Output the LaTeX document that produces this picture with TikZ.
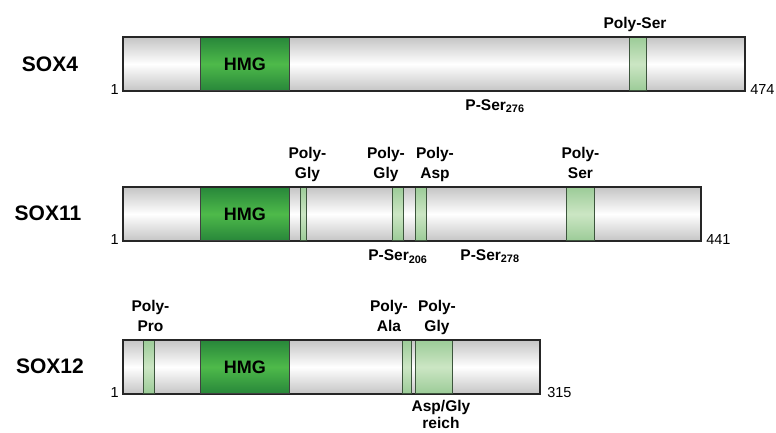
\documentclass[tikz,border=0pt]{standalone}
\usepackage{fontspec}
\setmainfont{Liberation Sans}
\usepackage{tikz}
\usetikzlibrary{positioning}

\definecolor{hmgdark}{RGB}{40,135,58}
\definecolor{hmglight}{RGB}{78,186,74}
\definecolor{polydark}{RGB}{156,204,152}
\definecolor{polylight}{RGB}{204,230,196}
\definecolor{polyline}{RGB}{60,85,60}

\begin{document}
\begin{tikzpicture}[
  x=1pt, y=-1pt,
  bar/.style={draw=black!85, line width=1.1pt, top color=gray!45,
              bottom color=gray!45, middle color=white,
              minimum height=53pt, inner sep=0pt, anchor=north west},
  hmg/.style={bar, draw=black!75, line width=0.9pt, top color=hmgdark,
              bottom color=hmgdark, middle color=hmglight,
              font=\fontsize{18}{20}\selectfont\bfseries},
  poly/.style={bar, draw=polyline, line width=0.9pt, top color=polydark,
               bottom color=polydark, middle color=polylight},
  outline/.style={draw=black!85, line width=1.1pt},
  lbl/.style={font=\fontsize{15.5}{20}\selectfont\bfseries, align=center,
              inner sep=1pt, text depth=3.5pt},
  gene/.style={font=\fontsize{21}{24}\selectfont\bfseries},
  num/.style={font=\fontsize{14.5}{16}\selectfont, inner sep=0pt}
]
\useasboundingbox (0,0) rectangle (776,432);

% SOX4
\node[bar, minimum width=621pt] (s4) at (123,37) {};
\node[hmg, minimum width=89pt] (hmg4) at (200,37) {HMG};
\node[poly, minimum width=17pt] (ps4) at (629,37) {};
\draw[outline] (s4.north west) rectangle (s4.south east);
\node[gene] (n4) at (50,64) {SOX4};
\node[num, anchor=base east] (s4b) at ([xshift=-4pt,yshift=-3.5pt]s4.south west) {1};
\node[num, anchor=base west] (s4e) at ([xshift=5pt,yshift=-3.5pt]s4.south east) {474};
\node[lbl, above=4pt of ps4, xshift=-3pt] (lps4) {Poly-Ser};
\node[lbl, anchor=north] (pser276) at (495,98) {P-Ser\textsubscript{276}};

% SOX11
\node[bar, minimum width=577pt] (s11) at (123,187) {};
\node[hmg, minimum width=89pt] (hmg11) at (200,187) {HMG};
\node[poly, minimum width=6pt] (pg1) at (300,187) {};
\node[poly, minimum width=11pt] (pg2) at (392,187) {};
\node[poly, minimum width=11pt] (pa) at (415,187) {};
\node[poly, minimum width=28pt] (ps11) at (566,187) {};
\draw[outline] (s11.north west) rectangle (s11.south east);
\node[gene] (n11) at (48,213) {SOX11};
\node[num, anchor=base east] (s11b) at ([xshift=-4pt,yshift=-3.5pt]s11.south west) {1};
\node[num, anchor=base west] (s11e) at ([xshift=5pt,yshift=-3.5pt]s11.south east) {441};
\node[lbl, above=4pt of pg1, xshift=4pt] (lpg1) {Poly-\\Gly};
\node[lbl, above=4pt of pg2, xshift=-12pt] (lpg2) {Poly-\\Gly};
\node[lbl, above=4pt of pa, xshift=14pt] (lpa) {Poly-\\Asp};
\node[lbl, above=4pt of ps11] (lps11) {Poly-\\Ser};
\node[lbl, below=8pt of pg2] (pser206) {P-Ser\textsubscript{206}};
\node[lbl, anchor=north] (pser278) at (490,248) {P-Ser\textsubscript{278}};

% SOX12
\node[bar, minimum width=416pt] (s12) at (123,340) {};
\node[poly, minimum width=11pt] (pp) at (143,340) {};
\node[hmg, minimum width=89pt] (hmg12) at (200,340) {HMG};
\node[poly, minimum width=9pt] (pal) at (402,340) {};
\node[poly, minimum width=37pt] (pgy) at (415,340) {};
\draw[outline] (s12.north west) rectangle (s12.south east);
\node[gene] (n12) at (50,366) {SOX12};
\node[num, anchor=base east] (s12b) at ([xshift=-4pt,yshift=-3.5pt]s12.south west) {1};
\node[num, anchor=base west] (s12e) at ([xshift=7pt,yshift=-3.5pt]s12.south east) {315};
\node[lbl, above=4pt of pp, xshift=1.5pt] (lpp) {Poly-\\Pro};
\node[lbl, above=4pt of pal, xshift=-18pt] (lpal) {Poly-\\Ala};
\node[lbl, above=4pt of pgy, xshift=3pt] (lpgy) {Poly-\\Gly};
\node[lbl, below=5pt of pgy, xshift=7pt] (asg) {Asp/Gly\\[-3pt]reich};

\end{tikzpicture}
\end{document}
